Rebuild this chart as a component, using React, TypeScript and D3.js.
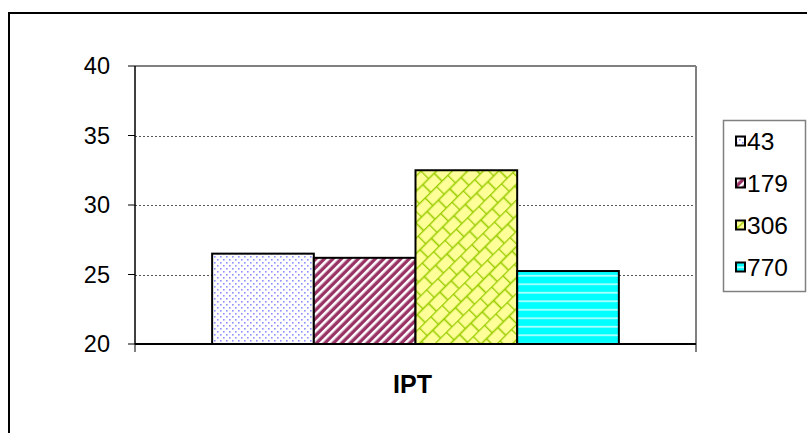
import React from "react";
import * as d3 from "d3";

const categories = ["IPT"];
const seriesNames = ["43", "179", "306", "770"];
const seriesValues = [26.5, 26.2, 32.5, 25.25];
const yTicks = [20, 25, 30, 35, 40];

const W = 807;
const H = 433;
const plot = { left: 135, right: 696, top: 66, bottom: 344 };

export default function App() {
  const y = d3.scaleLinear().domain([20, 40]).range([plot.bottom, plot.top]);
  const xCat = d3.scaleBand().domain(categories).range([plot.left, plot.right]).paddingInner(0).paddingOuter(0);
  const catStart = xCat(categories[0])!;
  const bw = xCat.bandwidth();
  const inner = d3.scaleBand().domain(seriesNames).range([catStart + bw * 0.1375, catStart + bw * 0.8625]).padding(0);
  const fills = ["url(#pDots)", "url(#pStripe)", "url(#pBrick)", "url(#pHoriz)"];
  const font = "Arial, 'Liberation Sans', sans-serif";

  return (
    <svg width={W} height={H} style={{ position: "absolute", left: 0, top: 0 }}>
      <defs>
        <pattern id="pDots" width="6" height="6" patternUnits="userSpaceOnUse">
          <rect width="6" height="6" fill="#ffffff" />
          <rect x="1" y="1" width="1.6" height="1.6" fill="#8f8fff" />
          <rect x="4" y="4" width="1.6" height="1.6" fill="#8f8fff" />
        </pattern>
        <pattern id="pStripe" width="6" height="6" patternUnits="userSpaceOnUse" patternTransform="rotate(45)">
          <rect width="6" height="6" fill="#993366" />
          <rect x="0" y="0" width="2.6" height="6" fill="#ffffff" />
        </pattern>
        <pattern id="pBrick" width="16" height="22" patternUnits="userSpaceOnUse" patternTransform="rotate(-45)">
          <rect width="16" height="22" fill="#ffff99" />
          <g stroke="#99cc00" strokeWidth="1.6">
            <line x1="0" y1="0.5" x2="16" y2="0.5" />
            <line x1="0" y1="11.5" x2="16" y2="11.5" />
            <line x1="0.5" y1="0" x2="0.5" y2="11" />
            <line x1="8.5" y1="11" x2="8.5" y2="22" />
          </g>
        </pattern>
        <pattern id="pHoriz" width="8" height="8.5" patternUnits="userSpaceOnUse">
          <rect width="8" height="8.5" fill="#00ffff" />
          <rect x="0" y="3" width="8" height="1.5" fill="#ccffff" />
        </pattern>
      </defs>
      <rect x="0" y="0" width={W} height={H} fill="#ffffff" />
      {/* outer chart border */}
      <rect x={9} y={13} width={900} height={500} fill="none" stroke="#000" strokeWidth={2} />

      {/* gridlines */}
      {yTicks.slice(1, -1).map((t) => (
        <line key={t} x1={plot.left} x2={plot.right} y1={Math.round(y(t)) + 0.5} y2={Math.round(y(t)) + 0.5}
          stroke="#555" strokeWidth={1} strokeDasharray="2,2" />
      ))}
      {/* plot area frame: top & right gray */}
      <line x1={plot.left} x2={plot.right} y1={plot.top} y2={plot.top} stroke="#808080" strokeWidth={2} />
      <line x1={plot.right} x2={plot.right} y1={plot.top} y2={plot.bottom} stroke="#808080" strokeWidth={2} />

      {/* bars */}
      {seriesNames.map((s, i) => {
        const x0 = inner(s)!;
        const top = y(seriesValues[i]);
        return (
          <rect key={s} x={x0} y={top} width={inner.bandwidth()} height={plot.bottom - top}
            fill={fills[i]} stroke="#000" strokeWidth={2} />
        );
      })}

      {/* axes */}
      <line x1={plot.left} x2={plot.left} y1={plot.top} y2={plot.bottom} stroke="#000" strokeWidth={1.5} />
      <line x1={plot.left} x2={plot.right} y1={plot.bottom} y2={plot.bottom} stroke="#000" strokeWidth={2} />
      {yTicks.map((t) => (
        <g key={t}>
          <line x1={plot.left - 7} x2={plot.left} y1={y(t)} y2={y(t)} stroke="#000" strokeWidth={1} />
          <text x={110} y={y(t)} dy="0.36em" textAnchor="end" fontFamily={font} fontSize={23.5} fill="#000">{t}</text>
        </g>
      ))}
      <line x1={plot.left} x2={plot.left} y1={plot.bottom} y2={plot.bottom + 8} stroke="#000" strokeWidth={1} />
      <line x1={plot.right} x2={plot.right} y1={plot.bottom} y2={plot.bottom + 8} stroke="#000" strokeWidth={1} />
      <text x={catStart + bw / 2 - 3} y={384} dy="0.36em" textAnchor="middle" fontFamily={font} fontSize={25} fontWeight="bold" fill="#000">
        {categories[0]}
      </text>

      {/* legend */}
      <rect x={723.5} y={120.5} width={82} height={171} fill="#fff" stroke="#808080" strokeWidth={1.5} />
      {seriesNames.map((s, i) => {
        const cy = 141 + i * 42;
        return (
          <g key={s}>
            <rect x={736} y={cy - 4.5} width={9} height={9} fill={fills[i]} stroke="#000" strokeWidth={2} />
            <text x={747} y={cy} dy="0.36em" fontFamily={font} fontSize={24.5} fill="#000">{s}</text>
          </g>
        );
      })}
    </svg>
  );
}
